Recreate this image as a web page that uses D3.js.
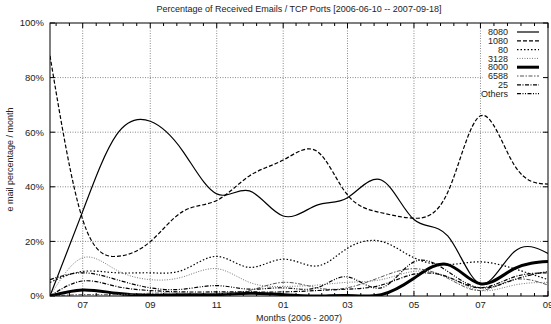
<!DOCTYPE html>
<html>
<head>
<meta charset="utf-8">
<script src="https://cdn.jsdelivr.net/npm/d3@7/dist/d3.min.js"></script>
<style>
  body { margin: 0; background: #fff; }
  text { font-family: "Liberation Sans", Arial, sans-serif; fill: #222; }
</style>
</head>
<body>
<div id="chart"></div>
<script>
// monthly samples, percent of received emails per port
const months = ["2006-06", "2006-07", "2006-08", "2006-09", "2006-10", "2006-11", "2006-12", "2007-01",
  "2007-02", "2007-03", "2007-04", "2007-05", "2007-06", "2007-07", "2007-08", "2007-09"];
const port8080 = [0, 31, 59, 64, 53, 37.4, 38.5, 29.3, 33.3, 36, 42.5, 28, 22, 4.5, 16.2, 15.6];
const port1080 = [88, 28, 14.5, 19.9, 31, 35, 44, 49.8, 53, 37, 30.5, 28.5, 38, 66, 48, 41];
const port80 = [5, 9, 8.5, 8.5, 9.5, 14.5, 10.5, 13.5, 11, 17.5, 20, 14, 11.5, 12.5, 10, 6];
const port3128 = [0, 14, 9.5, 6, 7, 10, 5, 3.5, 4, 5, 6, 9, 7, 2, 4, 5];
const port8000 = [0, 2.2, 1, 0.3, 0.5, 0.5, 1, 0.5, 0, 0.2, 0.5, 6.5, 11.5, 4.5, 10, 12.6];
const port6588 = [0, 0.5, 0.5, 1, 1, 1, 2, 5, 3, 3, 7, 10, 6.5, 2, 6, 4];
const port25 = [0, 5.5, 3.5, 2, 1.5, 1.5, 1.5, 1.5, 2, 2.5, 4, 8, 7, 3, 7, 8.5];
const portOthers = [6, 8.5, 6, 3, 2.5, 3.8, 2.5, 3, 3, 7, 3, 12.5, 9, 3, 6, 9];
const seriesNames = ["8080", "1080", "80", "3128", "8000", "6588", "25", "Others"];
const yTicks = [0, 20, 40, 60, 80, 100];

(function() {
  const margin = { top: 23, bottom: 28, left: 50, right: 3 };
  const width = 551 - margin.left - margin.right;
  const height = 324 - margin.top - margin.bottom;
  const parse = d3.timeParse("%Y-%m");
  const dates = months.map(parse);
  const allSeries = [port8080, port1080, port80, port3128, port8000, port6588, port25, portOthers];

  // line looks, same order as seriesNames
  const looks = [
    { w: 1.2, dash: null, c: "#000" },
    { w: 1.2, dash: "4,2", c: "#000" },
    { w: 1.2, dash: "1.5,2", c: "#000" },
    { w: 1, dash: "1,1.5", c: "#777" },
    { w: 3, dash: null, c: "#000" },
    { w: 1, dash: "1.5,1.5,4,1.5", c: "#555" },
    { w: 1.2, dash: "4,1.5,1,1.5", c: "#000" },
    { w: 1.2, dash: "4,1.5,1,1.5,1,1.5", c: "#000" }
  ];

  const svg = d3.select("#chart").append("svg")
    .attr("width", 551)
    .attr("height", 324);
  const g = svg.append("g")
    .attr("transform", "translate(" + margin.left + "," + margin.top + ")");

  const x = d3.scaleTime().domain([dates[0], dates[dates.length - 1]]).range([0, width]);
  const y = d3.scaleLinear().domain([0, 100]).range([height, 0]);

  const xMajor = d3.timeMonth.every(2).range(parse("2006-07"), parse("2007-10"));
  const xAll = d3.timeMonth.every(2).range(parse("2006-05"), parse("2007-11"));
  let xMinor = [];
  for (let i = 0; i < xAll.length - 1; i++) {
    const a = +xAll[i], b = +xAll[i + 1];
    for (let k = 1; k < 5; k++) xMinor.push(new Date(a + (b - a) * k / 5));
  }
  xMinor = xMinor.filter(d => d >= x.domain()[0] && d <= x.domain()[1]);

  // grid
  g.selectAll(".vgrid").data(xMajor.filter(d => +d < +x.domain()[1]))
    .enter().append("line")
    .attr("x1", d => x(d)).attr("x2", d => x(d))
    .attr("y1", 0).attr("y2", height)
    .attr("stroke", "#888").attr("stroke-dasharray", "1,1.5");
  g.selectAll(".hgrid").data(yTicks.slice(1, -1))
    .enter().append("line")
    .attr("x1", 0).attr("x2", width)
    .attr("y1", d => y(d)).attr("y2", d => y(d))
    .attr("stroke", "#888").attr("stroke-dasharray", "1,1.5");

  g.append("clipPath").attr("id", "plotclip")
    .append("rect").attr("width", width).attr("height", height);

  const line = d3.line()
    .x((d, i) => x(dates[i]))
    .y(d => y(d))
    .curve(d3.curveNatural);

  g.append("g").attr("clip-path", "url(#plotclip)")
    .selectAll("path").data(allSeries)
    .enter().append("path")
    .attr("d", line)
    .attr("fill", "none")
    .attr("stroke", (d, i) => looks[i].c)
    .attr("stroke-width", (d, i) => looks[i].w)
    .attr("stroke-dasharray", (d, i) => looks[i].dash);

  // legend
  const legX = 433, legY = 1;
  g.append("rect").attr("x", legX).attr("y", legY).attr("width", width - legX - 1).attr("height", 74)
    .attr("fill", "#fff");
  const legend = g.selectAll(".legend").data(seriesNames)
    .enter().append("g")
    .attr("transform", (d, i) => "translate(0," + (9 + i * 8.8) + ")");
  legend.append("text")
    .attr("x", 458).attr("dy", "0.35em")
    .attr("text-anchor", "end")
    .style("font-size", "9px")
    .text(d => d);
  legend.append("line")
    .attr("x1", 467).attr("x2", 489)
    .attr("stroke", (d, i) => looks[i].c)
    .attr("stroke-width", (d, i) => looks[i].w)
    .attr("stroke-dasharray", (d, i) => looks[i].dash);

  // border and ticks
  g.append("rect").attr("width", width).attr("height", height)
    .attr("fill", "none").attr("stroke", "#000").attr("stroke-width", 1);

  [0, height].forEach(function(edge) {
    const dir = edge === 0 ? 1 : -1;
    g.selectAll(null).data(xMajor).enter().append("line")
      .attr("x1", d => x(d)).attr("x2", d => x(d))
      .attr("y1", edge).attr("y2", edge + dir * 5)
      .attr("stroke", "#000");
    g.selectAll(null).data(xMinor).enter().append("line")
      .attr("x1", d => x(d)).attr("x2", d => x(d))
      .attr("y1", edge).attr("y2", edge + dir * 3)
      .attr("stroke", "#000");
  });
  [0, width].forEach(function(edge) {
    const dir = edge === 0 ? 1 : -1;
    g.selectAll(null).data(yTicks).enter().append("line")
      .attr("x1", edge).attr("x2", edge + dir * 5)
      .attr("y1", d => y(d)).attr("y2", d => y(d))
      .attr("stroke", "#000");
  });

  // tick labels
  g.selectAll(".ylab").data(yTicks).enter().append("text")
    .attr("x", -6).attr("y", d => y(d)).attr("dy", "0.35em")
    .attr("text-anchor", "end")
    .style("font-size", "9.5px")
    .text(d => d + "%");
  g.selectAll(".xlab").data(xMajor).enter().append("text")
    .attr("x", d => x(d)).attr("y", height + 12)
    .attr("text-anchor", "middle")
    .style("font-size", "9.5px")
    .text(d3.timeFormat("%m"));

  // titles
  svg.append("text")
    .attr("x", margin.left + width / 2).attr("y", 12)
    .attr("text-anchor", "middle")
    .style("font-size", "9px")
    .text("Percentage of Received Emails / TCP Ports [2006-06-10 -- 2007-09-18]");
  svg.append("text")
    .attr("x", margin.left + width / 2).attr("y", 321)
    .attr("text-anchor", "middle")
    .style("font-size", "9px")
    .text("Months (2006 - 2007)");
  svg.append("text")
    .attr("transform", "translate(13," + (margin.top + height / 2) + ") rotate(-90)")
    .attr("text-anchor", "middle")
    .style("font-size", "9px")
    .text("e mail percentage / month");
})();
</script>
</body>
</html>
